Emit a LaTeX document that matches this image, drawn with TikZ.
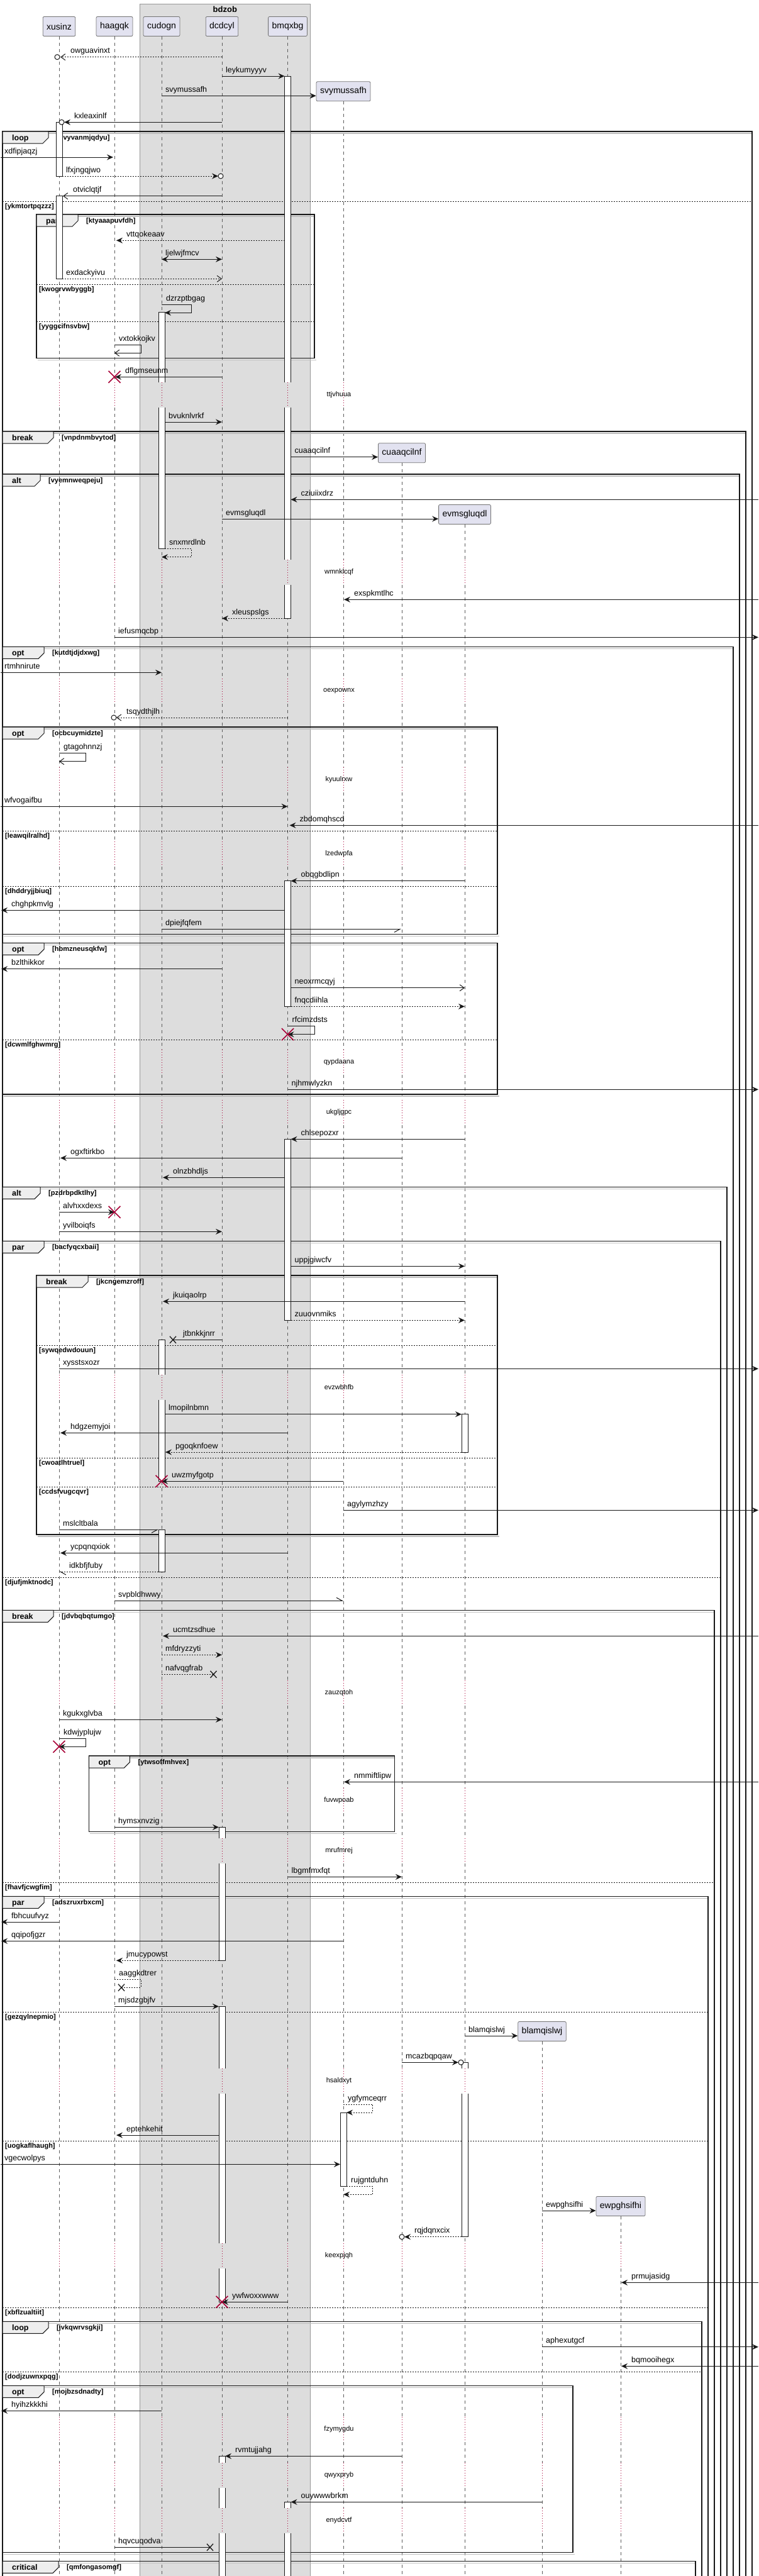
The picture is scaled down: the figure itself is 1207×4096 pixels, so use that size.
\documentclass[tikz,border=0pt]{standalone}
\usepackage{fontspec}
\setmainfont{Liberation Sans}
\usetikzlibrary{arrows.meta}
\definecolor{ink}{RGB}{24,24,24}
\definecolor{lavender}{RGB}{226,226,240}
\definecolor{boxgray}{RGB}{221,221,221}
\definecolor{tabgray}{RGB}{238,238,238}
\definecolor{crimson}{RGB}{168,0,54}

% lifeline positions
\def\lxu{94}   \def\lha{182}  \def\lcu{257}  \def\ldc{353}  \def\lbm{457.5}
\def\lsv{546}  \def\lca{639}  \def\lev{739}  \def\lbl{862}  \def\lew{987}
\def\ledge{1}  \def\redge{1206}
% delay centres
\def\lullys{628,910,1099,1240,1358,1689,1769,2206,2692,2863,2943,3309,3587,3863,3936,4008}

\tikzset{
  part/.style={draw=ink!60, fill=lavender, rounded corners=2pt, line width=0.8pt,
    inner xsep=6pt, inner ysep=0pt, minimum height=31pt, font=\fontsize{14}{16}\selectfont},
  life/.style={ink!70, line width=0.6pt, dash pattern=on 5pt off 5pt},
  lull/.style={crimson, line width=0.8pt, dash pattern=on 1pt off 3pt},
  act/.style={draw=ink, fill=white, line width=0.8pt},
  actline/.style={ink, line width=0.8pt},
  msgline/.style={ink, line width=1pt},
  reply/.style={dash pattern=on 2pt off 2pt},
  fa/.style={-{Stealth[length=10pt,width=9pt,inset=3.5pt]}},
  dbl/.style={{Stealth[length=10pt,width=9pt,inset=3.5pt]}-{Stealth[length=10pt,width=9pt,inset=3.5pt]}},
  oa/.style={-{Straight Barb[length=7pt,width=10pt]}},
  hr/.style={-{Straight Barb[right,length=9pt,width=10pt]}},
  hl/.style={-{Straight Barb[left,length=9pt,width=10pt]}},
  msgtxt/.style={anchor=base west, inner sep=0pt, font=\fontsize{12.5}{15}\selectfont},
  lulltxt/.style={inner sep=0pt, font=\fontsize{11}{13}\selectfont},
  grp/.style={draw=ink, line width=1.5pt},
  grpshade/.style={black!25, line width=1.5pt},
  grptabbox/.style={draw=ink, fill=tabgray, line width=1pt},
  tabtxt/.style={anchor=base west, inner sep=0pt, font=\bfseries\fontsize{12.5}{15}\selectfont},
  cndtxt/.style={anchor=base west, inner sep=0pt, font=\bfseries\fontsize{11}{13}\selectfont},
  elseline/.style={ink, line width=1pt, dash pattern=on 2pt off 2pt}
}

% message: [style]{from x}{to x}{y}{label}
\newcommand{\msg}[5][]{%
  \draw[msgline,#1] (#2,#4) -- (#3,#4);
  \pgfmathsetmacro{\lblx}{(#2<#3) ? (#2+6) : (#3+16)}%
  \node[msgtxt] (m#5) at (\lblx,#4-6) {#5};}
% self message: [style]{from x}{turn x}{back x}{y}{label}
\newcommand{\selfmsg}[6][]{%
  \draw[msgline,#1] (#2,#5) -- (#3,#5) -- (#3,#5+13) -- (#4,#5+13);
  \node[msgtxt] (m#6) at (#2+7,#5-6) {#6};}
\newcommand{\ring}[2]{\draw[msgline,fill=white] (#1,#2) circle (4pt);}
\newcommand{\lost}[2]{\draw[ink,line width=1.3pt] (#1-5,#2-5.5) -- (#1+5,#2+5.5) (#1-5,#2+5.5) -- (#1+5,#2-5.5);}
\newcommand{\gone}[2]{\draw[crimson,line width=1.6pt] (#1-9.5,#2-9.5) -- (#1+9.5,#2+9.5) (#1-9.5,#2+9.5) -- (#1+9.5,#2-9.5);}
% activations: {x}{top}{bottom}
\newcommand{\actv}[3]{\draw[act] (#1-5,#2) rectangle (#1+5,#3);}
\newcommand{\actopenbot}[3]{\fill[white] (#1-5,#2) rectangle (#1+5,#3);
  \draw[actline] (#1-5,#3) -- (#1-5,#2) -- (#1+5,#2) -- (#1+5,#3);}
\newcommand{\actopentop}[3]{\fill[white] (#1-5,#2) rectangle (#1+5,#3);
  \draw[actline] (#1-5,#2) -- (#1-5,#3) -- (#1+5,#3) -- (#1+5,#2);}
\newcommand{\actopen}[3]{\fill[white] (#1-5,#2) rectangle (#1+5,#3);
  \draw[actline] (#1-5,#2) -- (#1-5,#3) (#1+5,#2) -- (#1+5,#3);}
% lifeline broken by the delays: {x}{start y}
\newcommand{\lifeline}[2]{%
  \xdef\ylast{#2}%
  \foreach \c in \lullys {%
    \ifdim\dimexpr\c pt-20pt\relax>\ylast pt
      \draw[life] (#1,\ylast) -- (#1,\c-20);
      \draw[lull] (#1,\c-20) -- (#1,\c+20);
      \xdef\ylast{\the\numexpr\c+20\relax}%
    \fi}%
  \draw[life] (#1,\ylast) -- (#1,4110);}
% groups
\newcommand{\grpbox}[4]{%
  \draw[grpshade] (#1+2,#2+3) -- (#3,#2+3);
  \draw[grpshade] (#1+2,#4+3) -- (#3+3,#4+3);
  \draw[grp] (#1,#2) rectangle (#3,#4);}
\newcommand{\grptab}[5]{%
  \draw[grptabbox] (#1,#2) -- (#1+#3,#2) -- (#1+#3,#2+10) -- (#1+#3-9,#2+19) -- (#1,#2+19) -- cycle;
  \node[tabtxt] (t#5) at (#1+15,#2+14) {#4};
  \node[cndtxt] (c#5) at (#1+#3+13,#2+13.5) {[#5]};}
\newcommand{\grpelse}[4]{%
  \draw[elseline] (#1,#3) -- (#2,#3);
  \node[cndtxt] (e#4) at (#1+4,#3+11.5) {[#4]};}
\newcommand{\delaytxt}[2]{\node[lulltxt] (d#2) at (539,#1) {#2};}

\begin{document}
\begin{tikzpicture}[x=1pt,y=-1pt]
    \useasboundingbox (0,0) rectangle (1207,4096);
    \clip (0,0) rectangle (1207,4096);
    \fill[white] (0,0) rectangle (1207,4096);

    % box bdzob
    \fill[boxgray] (222.6,6) rectangle (493,4110);
    \draw[ink!45, line width=0.8pt] (222.6,4110) -- (222.6,6) -- (493,6) -- (493,4110);
    \node[font=\bfseries\fontsize{13}{15}\selectfont] (bdzob) at (357.8,15) {bdzob};

    % participants
    \node[part] (xusinz) at (\lxu,42) {xusinz};
    \node[part] (haagqk) at (\lha,42) {haagqk};
    \node[part] (cudogn) at (\lcu,42) {cudogn};
    \node[part] (dcdcyl) at (\ldc,42) {dcdcyl};
    \node[part] (bmqxbg) at (\lbm,42) {bmqxbg};
    \node[part] (svymussafh) at (\lsv,145.3) {svymussafh};
    \node[part] (cuaaqcilnf) at (\lca,720.2) {cuaaqcilnf};
    \node[part] (evmsgluqdl) at (\lev,818) {evmsgluqdl};
    \node[part] (blamqislwj) at (\lbl,3230) {blamqislwj};
    \node[part] (ewpghsifhi) at (\lew,3508) {ewpghsifhi};

    % lifelines
    \lifeline{\lxu}{57.5}
    \lifeline{\lha}{57.5}
    \lifeline{\lcu}{57.5}
    \lifeline{\ldc}{57.5}
    \lifeline{\lbm}{57.5}
    \lifeline{\lsv}{161}
    \lifeline{\lca}{736}
    \lifeline{\lev}{833.5}
    \lifeline{\lbl}{3245.5}
    \lifeline{\lew}{3523.5}

    % delays
    \delaytxt{628}{ttjvhuua}
    \delaytxt{910}{wmnklcqf}
    \delaytxt{1099}{oexpownx}
    \delaytxt{1240}{kyuulrxw}
    \delaytxt{1358}{lzedwpfa}
    \delaytxt{1689}{qypdaana}
    \delaytxt{1769}{ukgljgpc}
    \delaytxt{2206}{evzwbhfb}
    \delaytxt{2692}{zauzqtoh}
    \delaytxt{2863}{fuvwpoab}
    \delaytxt{2943}{mrufmrej}
    \delaytxt{3309}{hsaldxyt}
    \delaytxt{3587}{keexpjqh}
    \delaytxt{3863}{fzymygdu}
    \delaytxt{3936}{qwyxpryb}
    \delaytxt{4008}{enydcvtf}

    % groups
    \grpbox{4}{209}{1196}{4110}
    \grptab{4}{209}{73}{loop}{pvyvanmjqdyu}
    \grpelse{4}{1196}{320}{ykmtortpqzzz}
    \grpbox{58}{341}{500}{569.3}
    \grptab{58}{341}{66}{par}{ktyaaapuvfdh}
    \grpelse{58}{500}{452.3}{kwogrvwbyggb}
    \grpelse{58}{500}{511.3}{yyggcifnsvbw}
    \grpbox{4}{686}{1186}{4110}
    \grptab{4}{686}{81}{break}{vnpdnmbvytod}
    \grpbox{4}{754}{1176}{4110}
    \grptab{4}{754}{60}{alt}{vyemnweqpeju}
    \grpbox{4}{1028.3}{1166}{4110}
    \grptab{4}{1028.3}{66}{opt}{kutdtjdjdxwg}
    \grpbox{4}{1156}{791}{1485.7}
    \grptab{4}{1156}{66}{opt}{ocbcuymidzte}
    \grpelse{4}{791}{1321}{leawqilralhd}
    \grpelse{4}{791}{1409.3}{dhddryjjbiuq}
    \grpbox{4}{1499.3}{791}{1740}
    \grptab{4}{1499.3}{66}{opt}{hbmzneusqkfw}
    \grpelse{4}{791}{1653.3}{dcwmlfghwmrg}
    \grpbox{4}{1887.3}{1156}{4110}
    \grptab{4}{1887.3}{60}{alt}{pzdrbpdktlhy}
    \grpbox{4}{1973.3}{1146}{4110}
    \grptab{4}{1973.3}{66}{par}{bacfyqcxbaii}
    \grpelse{4}{1146}{2508}{djufjmktnodc}
    \grpbox{58}{2028}{791}{2440}
    \grptab{58}{2028}{82}{break}{jkcngemzroff}
    \grpelse{58}{791}{2139.3}{sywqedwdouun}
    \grpelse{58}{791}{2318.3}{cwoatlhtruel}
    \grpelse{58}{791}{2364}{ccdsfvugcqvr}
    \grpbox{4}{2560.3}{1136}{4110}
    \grptab{4}{2560.3}{81}{break}{jdvbqbqtumgo}
    \grpelse{4}{1136}{2993.3}{fhavfjcwgfim}
    \grpbox{141.4}{2792}{627.5}{2912.7}
    \grptab{141.4}{2792}{65}{opt}{ytwsoffmhvex}
    \grpbox{4}{3015.3}{1126}{4110}
    \grptab{4}{3015.3}{66}{par}{adszruxrbxcm}
    \grpelse{4}{1126}{3199.3}{gezqylnepmio}
    \grpelse{4}{1126}{3404.3}{uogkaflhaugh}
    \grpelse{4}{1126}{3669.3}{xbflzualtiit}
    \grpbox{4}{3691.3}{1116}{4110}
    \grptab{4}{3691.3}{73}{loop}{jvkqwrvsgkji}
    \grpelse{4}{1116}{3771.3}{dodjzuwnxpqg}
    \grpbox{4}{3793.3}{911}{4058.3}
    \grptab{4}{3793.3}{66}{opt}{mojbzsdnadty}
    \grpbox{4}{4072.3}{1106}{4110}
    \grptab{4}{4072.3}{89}{critical}{qmfongasomgf}

    % activations
    \actv{\lxu}{194.3}{280}
    \actv{\lxu}{311.7}{443.3}
    \actopenbot{\lbm}{121}{608}
    \actopen{\lbm}{648}{890}
    \actopentop{\lbm}{930}{983.3}
    \actv{\lbm}{1400.7}{1600.3}
    \actv{\lbm}{1811.3}{2099.3}
    \actopenbot{\lbm}{3978.3}{3988}
    \actopen{\lbm}{4028}{4110}
    \actopenbot{\lcu}{496.7}{608}
    \actopentop{\lcu}{648}{872.7}
    \actopenbot{\lcu}{2130.3}{2186}
    \actopentop{\lcu}{2226}{2355.3}
    \actv{\lcu}{2432.3}{2499}
    \actv{\lev}{2248.7}{2309}
    \actopenbot{\lev}{3279.3}{3289}
    \actopentop{\lev}{3329}{3556.7}
    \actopenbot{\ldc}{2905.3}{2923}
    \actopentop{\ldc}{2963}{3117.3}
    \actopenbot{\ldc}{3190.3}{3289}
    \actopen{\ldc}{3329}{3567}
    \actopentop{\ldc}{3607}{3660.3}
    \actopenbot{\ldc}{3905.3}{3916}
    \actopen{\ldc}{3956}{3988}
    \actopen{\ldc}{4028}{4110}
    \actv{\lsv}{3359.3}{3476.3}

    % messages
    \msg[reply,oa]{\ldc}{\lxu+2}{90.7}{owguavinxt}
    \ring{\lxu-3}{90.7}
    \msg[fa]{\ldc}{\lbm-5}{121}{leykumyyyv}
    \draw[msgline,fa] (\lcu,152.3) -- (svymussafh.west |- 0,152.3);
    \node[msgtxt] (msvymussafh) at (\lcu+6,146.3) {svymussafh};
    \msg[fa]{\ldc}{\lxu+8}{194.3}{kxleaxinlf}
    \ring{\lxu+4}{194.3}
    \msg[fa]{\ledge}{\lha-2}{250}{xdfipjaqzj}
    \msg[reply,fa]{\lxu+5}{\ldc-6}{280}{lfxjngqjwo}
    \ring{\ldc-2}{280}
    \msg[oa]{\ldc}{\lxu+6}{311.7}{otviclqtjf}
    \msg[reply,fa]{\lbm-5}{\lha+3}{382.3}{vttqokeaav}
    \msg[dbl]{\lcu}{\ldc}{412.3}{ljelwjfmcv}
    \msg[reply,oa]{\lxu+5}{\ldc}{443.3}{exdackyivu}
    \selfmsg[fa]{\lcu}{304.5}{\lcu+5}{484.3}{dzrzptbgag}
    \selfmsg[oa]{\lha}{224}{\lha}{548.3}{vxtokkojkv}
    \msg[fa]{\ldc}{\lha+1}{599.3}{dflgmseunm}
    \gone{\lha}{599.3}
    \msg[fa]{\lcu+5}{\ldc}{671}{bvuknlvrkf}
    \draw[msgline,fa] (\lbm+5,726.7) -- (cuaaqcilnf.west |- 0,726.7);
    \node[msgtxt] (mcuaaqcilnf) at (\lbm+11,720.7) {cuaaqcilnf};
    \msg[fa]{\redge}{\lbm+5}{794.3}{cziuiixdrz}
    \draw[msgline,fa] (\ldc,825) -- (evmsgluqdl.west |- 0,825);
    \node[msgtxt] (mevmsgluqdl) at (\ldc+6,819) {evmsgluqdl};
    \selfmsg[reply,fa]{\lcu+5}{304.5}{\lcu}{872.7}{snxmrdlnb}
    \msg[fa]{\redge}{\lsv+1}{953.3}{exspkmtlhc}
    \msg[reply,fa]{\lbm-5}{\ldc}{983.3}{xleuspslgs}
    \msg[fa]{\lha}{\redge}{1013.3}{iefusmqcbp}
    \msg[fa]{\ledge}{\lcu}{1069.3}{rtmhnirute}
    \msg[reply,oa]{\lbm}{\lha+3}{1141}{tsqydthjlh}
    \ring{\lha-1}{1141}
    \selfmsg[oa]{\lxu}{136}{\lxu}{1197.7}{gtagohnnzj}
    \msg[fa]{\ledge}{\lbm}{1282.3}{wfvogaifbu}
    \msg[fa]{\redge}{\lbm+3}{1312.3}{zbdomqhscd}
    \msg[fa]{\lev}{\lbm+5}{1400.7}{obqgbdlipn}
    \msg[fa]{\lbm-5}{\ledge+1}{1447.3}{chghpkmvlg}
    \msg[hr]{\lcu}{\lca-1}{1477.3}{dpiejfqfem}
    \msg[fa]{\ldc}{\ledge+1}{1540.7}{bzlthikkor}
    \msg[oa]{\lbm+5}{\lev}{1570.7}{neoxrmcqyj}
    \msg[reply,fa]{\lbm+5}{\lev}{1600.3}{fnqcdiihla}
    \selfmsg[fa]{\lbm}{500}{\lbm}{1631.7}{rfcimzdsts}
    \gone{\lbm}{1644.7}
    \msg[fa]{\lbm}{\redge}{1732.3}{njhmwlyzkn}
    \msg[fa]{\lev}{\lbm+5}{1811.3}{chlsepozxr}
    \msg[fa]{\lca}{\lxu+2}{1841.3}{ogxftirkbo}
    \msg[fa]{\lbm-5}{\lcu+2}{1872.3}{olnzbhdljs}
    \msg[fa]{\lxu}{\lha}{1927.3}{alvhxxdexs}
    \gone{\lha}{1927.3}
    \msg[fa]{\lxu}{\ldc}{1958.3}{yvilboiqfs}
    \msg[fa]{\lbm+5}{\lev}{2013.3}{uppjgiwcfv}
    \msg[fa]{\lev}{\lcu+2}{2069.3}{jkuiqaolrp}
    \msg[reply,fa]{\lbm+5}{\lev}{2099.3}{zuuovnmiks}
    \msg{\ldc}{275}{2130.3}{jtbnkkjnrr}
    \lost{275}{2130.3}
    \msg[fa]{\lxu}{\redge}{2176.3}{xysstsxozr}
    \msg[fa]{\lcu+5}{\lev-5}{2248.7}{lmopilnbmn}
    \msg[fa]{\lbm}{\lxu+2}{2278.3}{hdgzemyjoi}
    \msg[reply,fa]{\lev-5}{\lcu+6}{2309}{pgoqknfoew}
    \msg[fa]{\lsv}{\lcu}{2355.3}{uwzmyfgotp}
    \gone{\lcu}{2355.3}
    \msg[fa]{\lsv}{\redge}{2401.3}{agylymzhzy}
    \msg[hr]{\lxu}{\lcu-5}{2432.3}{mslcltbala}
    \msg[fa]{\lbm}{\lxu+2}{2469.3}{ycpqnqxiok}
    \msg[reply,hl]{\lcu-5}{\lxu}{2499}{idkbfjfuby}
    \msg[hl]{\lha}{\lsv}{2545.3}{svpbldhwwy}
    \msg[fa]{\redge}{\lcu+2}{2601.3}{ucmtzsdhue}
    \msg[reply,fa]{\lcu}{\ldc}{2631.3}{mfdryzzyti}
    \msg[reply]{\lcu}{339.5}{2662.3}{nafvqgfrab}
    \lost{339.5}{2662.3}
    \msg[fa]{\lxu}{\ldc}{2734.3}{kgukxglvba}
    \selfmsg[fa]{\lxu}{136}{\lxu}{2764.3}{kdwjyplujw}
    \gone{\lxu}{2777.3}
    \msg[fa]{\redge}{\lsv+1}{2833.3}{nmmiftlipw}
    \msg[fa]{\lha}{\ldc-5}{2905.3}{hymsxnvzig}
    \msg[fa]{\lbm}{\lca}{2984.3}{lbgmfmxfqt}
    \msg[fa]{\lxu}{\ledge+1}{3056}{fbhcuufvyz}
    \msg[fa]{\lsv}{\ledge+1}{3086.3}{qqipofjgzr}
    \msg[reply,fa]{\ldc-5}{\lha+3}{3117.3}{jmucypowst}
    \selfmsg[reply]{\lha}{224}{193}{3147.3}{aaggkdtrer}
    \lost{193}{3160.3}
    \msg[fa]{\lha}{\ldc-5}{3190.3}{mjsdzgbjfv}
    \draw[msgline,fa] (\lev,3237) -- (blamqislwj.west |- 0,3237);
    \node[msgtxt] (mblamqislwj) at (\lev+6,3231) {blamqislwj};
    \msg[fa]{\lca}{\lev-10}{3279.3}{mcazbqpqaw}
    \ring{\lev-6}{3279.3}
    \selfmsg[reply,fa]{\lsv}{592.7}{\lsv+5}{3346}{ygfymceqrr}
    \msg[fa]{\ldc-5}{\lha+3}{3395}{eptehkehit}
    \msg[fa]{\ledge}{\lsv-5}{3441.3}{vgecwolpys}
    \selfmsg[reply,fa]{\lsv+5}{592.7}{\lsv}{3476.3}{rujgntduhn}
    \draw[msgline,fa] (\lbl,3515) -- (ewpghsifhi.west |- 0,3515);
    \node[msgtxt] (mewpghsifhi) at (\lbl+6,3509) {ewpghsifhi};
    \msg[reply,fa]{\lev-5}{\lca+4}{3556.7}{rqjdqnxcix}
    \ring{\lca}{3556.7}
    \msg[fa]{\redge}{\lew+1}{3629.3}{prmujasidg}
    \msg[fa]{\lbm}{\ldc}{3660.3}{ywfwoxxwww}
    \gone{\ldc}{3660.3}
    \msg[fa]{\lbl}{\redge}{3731.7}{aphexutgcf}
    \msg[fa]{\redge}{\lew+1}{3762.3}{bqmooihegx}
    \msg[fa]{\lcu}{\ledge+1}{3833.3}{hyihzkkkhi}
    \msg[fa]{\lca}{\ldc+5}{3905.3}{rvmtujjahg}
    \msg[fa]{\lbl}{\lbm+5}{3978.3}{ouywwwbrkm}
    \msg{\lha}{334}{4050.3}{hqvcuqodva}
    \lost{334}{4050.3}
\end{tikzpicture}
\end{document}
